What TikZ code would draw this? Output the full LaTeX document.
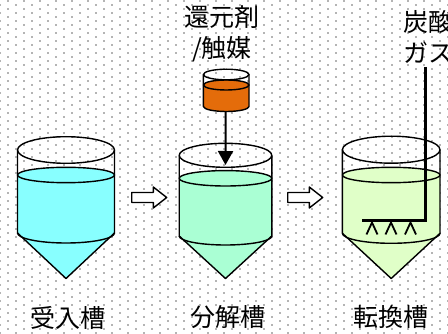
\documentclass[tikz,border=0pt]{standalone}
\usepackage{fontspec}
\newfontfamily\jpfont{Noto Sans CJK JP}
\usetikzlibrary{arrows.meta}

\definecolor{liqin}{RGB}{136,255,255}
\definecolor{liqdec}{RGB}{170,255,212}
\definecolor{liqconv}{RGB}{224,255,200}
\definecolor{dose}{RGB}{228,108,10}
\definecolor{griddot}{RGB}{180,180,180}

\tikzset{
    wall/.style={line width=1.4pt, line join=round},
    jptext/.style={font=\jpfont\fontsize{25}{31}\selectfont, align=center, inner sep=0pt},
    feed/.style={line width=2pt, -{Triangle[width=15pt,length=14pt]}},
    gasline/.style={line width=2.2pt},
}

\begin{document}
\begin{tikzpicture}[x=1pt,y=-1pt]
    \useasboundingbox (0,0) rectangle (448,334);
    \clip (0,0) rectangle (448,334);
    % dotted paper
    \foreach \r [evaluate=\r as \yy using 4*\r, evaluate=\r as \off using {8*mod(\r+1,2)}] in {0,...,83}
    {
        \foreach \c in {0,...,28}
            \fill[griddot] (\off+16*\c-0.9,\yy) rectangle +(1.8,1.8);
    }
    % tanks: centre/radius/top/top ry/liquid/bottom/bottom ry/colour/name
    \foreach \cx/\rx/\yt/\rt/\yl/\yb/\rb/\liq/\nm in
        {66/48.5/150/13.3/175/233/10/liqin/receive,
         225.5/46.3/155.3/12/178.3/236/9/liqdec/decomp,
         391.2/48.8/149.7/13.5/175/233.3/10/liqconv/convert}
    {
        \fill[\liq] (\cx-\rx,\yl) -- (\cx-\rx,\yb) -- (\cx,278.5) -- (\cx+\rx,\yb) -- (\cx+\rx,\yl) -- cycle;
        \filldraw[wall,fill=\liq] (\cx,\yl) ellipse [x radius=\rx, y radius=7.7];
        \draw[wall] (\cx-\rx,\yb) arc [start angle=180, end angle=0, x radius=\rx, y radius=\rb];
        \draw[wall] (\cx-\rx,\yt) -- (\cx-\rx,\yb) -- (\cx,278.5) -- (\cx+\rx,\yb) -- (\cx+\rx,\yt);
        \draw[wall] (\cx,\yt) ellipse [x radius=\rx, y radius=\rt];
        \coordinate (\nm-in) at (\cx,\yt+9.7);
    }
    % flow arrows
    \foreach \ax in {131.7,287.7}
    {
        \draw[wall,fill=white] (\ax,192.5) -- (\ax+21.6,192.5) -- (\ax+21.6,187) -- (\ax+35,197.5)
            -- (\ax+21.6,208) -- (\ax+21.6,202.5) -- (\ax,202.5) -- cycle;
    }
    % dosing vessel
    \fill[dose] (203.4,85) -- (203.4,106.5) arc [start angle=180, end angle=0, x radius=22.8, y radius=5] -- (249,85) -- cycle;
    \filldraw[wall,fill=dose] (226.2,85) ellipse [x radius=22.8, y radius=5];
    \draw[wall] (203.4,74.5) -- (203.4,106.5) arc [start angle=180, end angle=0, x radius=22.8, y radius=5] -- (249,74.5);
    \draw[wall] (226.2,74.5) ellipse [x radius=22.8, y radius=5.3];
    \coordinate (dose-out) at (225.7,111.5);
    \draw[feed] (dose-out) -- (decomp-in);
    % gas sparger
    \coordinate (gas-in) at (425.5,67);
    \coordinate (sparge) at (362,220.5);
    \draw[gasline] (gas-in) |- (sparge);
    \foreach \nx in {372,391,410.5}
        \draw[line width=1.8pt] (\nx-5.5,234.5) -- (\nx,222.5) -- (\nx+5.5,234.5);
    % labels
    \node[jptext] (agent) at (222,33.5) {還元剤\\/触媒};
    \node[jptext] (gas) at (428,37) {炭酸\\ガス};
    \node[jptext] (receive-name) at (68.3,317.5) {受入槽};
    \node[jptext] (decomp-name) at (227.5,317.5) {分解槽};
    \node[jptext] (convert-name) at (391,317.5) {転換槽};
\end{tikzpicture}
\end{document}
